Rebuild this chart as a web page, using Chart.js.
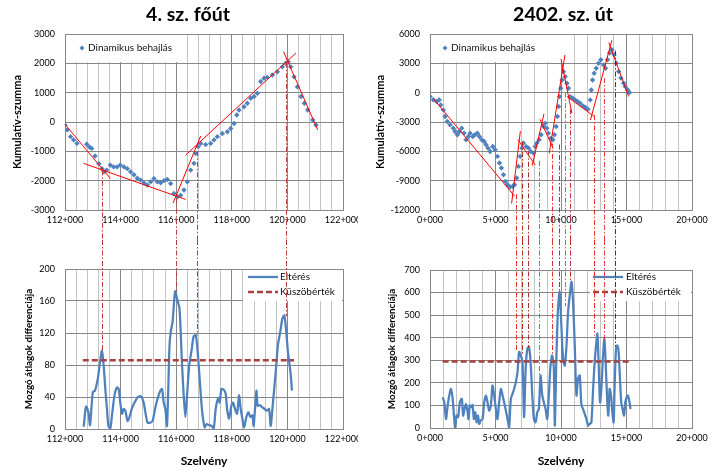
<!DOCTYPE html>
<html>
<head>
<meta charset="utf-8">
<script src="https://cdn.jsdelivr.net/npm/chart.js@4.4.1/dist/chart.umd.min.js"></script>
<style>
  html, body { margin: 0; padding: 0; background: #fff; }
  #wrap { position: relative; width: 716px; height: 471px; overflow: hidden; }
  canvas { position: absolute; }
</style>
</head>
<body>
<div id="wrap">
  <canvas id="tl" width="358" height="240" style="left:0;top:0"></canvas>
  <canvas id="tr" width="358" height="240" style="left:358px;top:0"></canvas>
  <canvas id="bl" width="358" height="231" style="left:0;top:240px"></canvas>
  <canvas id="br" width="358" height="231" style="left:358px;top:240px"></canvas>
</div>
<script>
// ---- 4. sz. főút: kumulatív szumma (szelvény [m], érték)
var leftStations = [112000,112080,112200,112310,112430,112780,112880,112960,113080,113220,113330,113400,113500,113630,113750,113870,113990,114120,114240,114360,114480,114600,114720,114840,114960,115080,115200,115320,115440,115560,115680,115800,115920,116040,116160,116280,116400,116520,116640,116700,116790,116880,117060,117240,117360,117480,117660,117840,117960,118080,118180,118260,118440,118560,118680,118800,118920,119040,119160,119280,119460,119640,119820,119940,120030,120120,120240,120360,120490,120610,120730,120910,121030];
var leftCumSum = [-100,-270,-500,-610,-730,-760,-850,-900,-1160,-1420,-1590,-1700,-1640,-1470,-1530,-1530,-1470,-1530,-1590,-1700,-1800,-1920,-1980,-2080,-2150,-2040,-1930,-2040,-2070,-2000,-1960,-2100,-2440,-2550,-2500,-2320,-2040,-1640,-1410,-1070,-840,-730,-770,-730,-610,-500,-390,-330,-220,-50,240,410,520,640,810,870,980,1380,1490,1520,1600,1710,1880,2000,2050,1880,1540,1200,870,640,410,70,-100];
// trend lines [x1, y1, x2, y2]
var leftTrends = [[112000,-80,113630,-1925],[112670,-1410,116340,-2640],[115890,-2760,116880,-480],[116340,-1130,120305,2350],[119860,2400,121090,-270]];

// ---- 4. sz. főút: mozgó átlagok differenciája
var leftDiffStations = [112673,112755,112840,112900,113000,113080,113180,113260,113330,113390,113450,113510,113560,113630,113690,113780,113870,113930,113990,114050,114110,114170,114250,114320,114400,114500,114620,114730,114830,114910,114970,115070,115150,115240,115330,115430,115490,115550,115610,115670,115760,115810,115870,115960,116030,116120,116200,116270,116330,116390,116470,116560,116630,116710,116800,116905,116965,117025,117085,117180,117265,117350,117420,117505,117565,117625,117710,117780,117830,117900,117985,118045,118115,118190,118260,118320,118380,118440,118525,118595,118670,118740,118785,118835,118885,118930,119005,119100,119185,119265,119340,119400,119480,119580,119660,119750,119820,119890,119965,120020,120110,120165];
var leftDiff = [3,28,21,5,46,48,63,84,98,80,50,25,4,1,17,42,52,50,33,19,25,23,10,15,25,33,40,41,33,17,8,8,10,25,38,48,50,33,25,4,105,123,134,172,163,150,88,42,15,42,80,100,116,117,84,33,13,2,6,5,4,1,25,38,33,50,49,44,25,13,29,33,25,19,42,25,13,2,15,21,15,17,4,25,48,29,30,27,25,23,25,4,33,71,105,123,138,142,119,96,71,48];
var leftThresholdX = [112640, 120240];
var leftThreshold = [86, 86];

// ---- 2402. sz. út: kumulatív szumma
var rightStations = [0,250,510,710,820,1020,1150,1320,1530,1780,1910,2090,2240,2420,2600,2750,2930,3060,3260,3440,3620,3770,3950,4130,4280,4430,4590,4790,4970,5150,5300,5450,5610,5760,5910,6110,6320,6450,6620,6750,6880,7010,7130,7340,7520,7690,7900,8030,8150,8330,8480,8660,8790,8920,9040,9220,9380,9500,9630,9730,9810,9890,9990,10090,10190,10320,10450,10570,10700,10900,11080,11260,11460,11670,11850,12050,12230,12310,12410,12530,12690,12860,13040,13250,13400,13550,13710,13890,14060,14220,14400,14570,14780,14900,15080,15230];
var rightCumSum = [-400,-730,-910,-740,-1250,-1760,-2440,-2950,-3290,-3630,-3970,-4310,-3970,-3630,-4140,-4820,-4480,-4140,-4480,-4310,-4140,-4480,-4820,-4990,-5330,-5670,-6010,-5500,-5840,-6520,-7200,-7710,-8390,-9070,-9410,-9650,-9580,-9410,-8730,-7540,-6520,-5670,-5160,-5500,-5670,-6010,-6180,-5500,-5160,-4820,-4310,-3460,-3120,-3630,-4140,-4650,-4820,-4310,-3460,-2440,-1420,-400,450,1300,2150,1640,960,450,-400,-570,-740,-910,-1080,-1350,-1490,-1700,-740,280,1300,1980,2490,3000,3370,2830,2490,3370,4050,4390,3880,3020,2170,1490,980,640,300,20];
var rightTrends = [[250,-600,6450,-10570],[6230,-11330,6900,-3930],[6700,-4800,8030,-7400],[7800,-7470,8700,-2160],[8400,-2730,9400,-5690],[9100,-6200,10300,3850],[10000,3450,10830,-2100],[10450,-390,12500,-2400],[12250,-2800,13880,5350],[13650,5130,15160,-390]];

// ---- 2402. sz. út: mozgó átlagok differenciája
var rightDiffStations = [965,1090,1220,1350,1470,1600,1730,1850,1920,2030,2150,2280,2430,2530,2640,2740,2840,2940,3040,3150,3250,3350,3450,3560,3660,3760,3860,4010,4140,4270,4390,4520,4650,4770,4900,5030,5150,5280,5410,5540,5660,5790,5920,6040,6170,6300,6420,6550,6680,6800,6930,7060,7180,7300,7430,7550,7680,7810,7930,8060,8190,8310,8440,8570,8690,8820,8950,9070,9200,9330,9450,9530,9640,9760,9890,10040,10160,10290,10420,10540,10670,10800,10920,11050,11180,11300,11430,11560,11690,11810,11940,12070,12190,12320,12450,12570,12700,12780,12870,12980,13080,13210,13310,13410,13510,13610,13710,13820,13920,14020,14090,14200,14300,14400,14500,14600,14700,14810,14910,15010,15110,15230,15310];
var rightDiff = [136,114,40,100,144,173,129,40,3,55,48,114,129,55,84,107,84,40,100,92,102,40,70,25,55,18,33,40,114,144,114,77,100,188,144,84,40,114,173,144,114,77,40,3,129,151,173,203,248,337,322,292,48,262,351,359,292,144,40,25,70,84,233,144,114,84,40,144,277,322,267,11,292,514,603,440,307,277,366,514,589,648,559,366,144,218,233,100,84,62,40,11,18,25,173,292,381,418,292,114,173,322,396,292,144,55,173,144,70,25,173,351,366,337,218,114,84,55,114,136,144,114,84];
var rightThresholdX = [965, 15360];
var rightThreshold = [295, 295];

// ---- töréspontok (szelvény, kumulatív szint, differencia csúcs)
var leftBreaks = [113340, 115980, 116740, 119940];
var leftBreakCum = [-1650, -2600, -1000, 2020];
var leftBreakDiff = [98, 172, 117, 141];
var rightBreaks = [6565, 7000, 7460, 8300, 9310, 9870, 10340, 10720, 12540, 13300, 14160];
var rightBreakCum = [-10400, -5000, -6000, -7000, -5200, -5300, 0, -1700, -2300, 1500, 4300];
var rightBreakDiff = [340, 330, 355, 233, 330, 600, 540, 650, 410, 385, 360];

// ---- tengely feliratok
var leftXLabels = ['112+000','114+000','116+000','118+000','120+000','122+000'];
var rightXLabels = ['0+000','5+000','10+000','15+000','20+000'];
var leftCumLabels = ['-3000','-2000','-1000','0','1000','2000','3000'];
var rightCumLabels = ['-12000','-9000','-6000','-3000','0','3000','6000'];
var leftDiffLabels = ['0','40','80','120','160','200'];
var rightDiffLabels = ['0','100','200','300','400','500','600','700'];

var FONT = 'Lato, "Liberation Sans", sans-serif';
var MAJOR = '#878787', MINOR = '#c4c4c4';
var BLUE = '#4F81BD';
Chart.defaults.font.family = FONT;
Chart.defaults.color = '#000';

var leftBreakColors = ['#B8403A', '#B8403A', '#B8403A', '#B8403A'];
var rightBreakColors = ['#E8302A', '#B0302A', '#B0302A', '#40A070', '#E8302A', '#B0302A', '#40A070', '#C0303A', '#E8302A', '#E04050', '#602828'];

function pts(xs, ys) {
  return xs.map(function (x, i) { return { x: x, y: ys[i] }; });
}

function xAxis(min, max, step, every, labels, h, title) {
  return {
    type: 'linear', min: min, max: max,
    afterFit: function (s) { s.height = h; s.paddingLeft = 0; s.paddingRight = 0; },
    ticks: {
      stepSize: step, autoSkip: false, maxRotation: 0, minRotation: 0, padding: 5, font: { size: 9 },
      callback: function (v) { return (v - min) % every === 0 ? labels[(v - min) / every] : ''; }
    },
    grid: {
      drawTicks: false,
      color: function (c) { return c.tick && (c.tick.value - min) % every === 0 ? MAJOR : MINOR; }
    },
    border: { color: MAJOR },
    title: title ? { display: true, text: title, font: { size: 12, weight: 'bold' }, padding: { top: 0, bottom: 3 } } : { display: false }
  };
}

function yAxis(min, max, step, labels, w, title, size, pad) {
  return {
    type: 'linear', min: min, max: max,
    afterFit: function (s) { s.width = w; s.paddingTop = 0; s.paddingBottom = 0; },
    ticks: {
      stepSize: step, padding: 10, font: { size: 9 },
      callback: function (v) { return labels[Math.round((v - min) / step)]; }
    },
    grid: { drawTicks: false, color: MAJOR },
    border: { color: MAJOR },
    title: { display: true, text: title, font: { size: size, weight: 'bold' }, padding: { top: pad, bottom: 0 } }
  };
}

// title, legend and the dash-dot break lines running between the two charts
var decor = {
  id: 'decor',
  beforeDatasetsDraw: function (chart, args, o) {
    var ctx = chart.ctx;
    ctx.save();
    if (o.title) {
      ctx.font = 'bold 19.5px ' + FONT;
      ctx.fillStyle = '#000';
      ctx.textAlign = 'center';
      ctx.textBaseline = 'middle';
      ctx.fillText(o.title, o.titleX, 15);
    }
    if (o.legend) {
      var L = o.legend;
      ctx.fillStyle = '#fff';
      ctx.fillRect(L.box[0], L.box[1], L.box[2], L.box[3]);
      ctx.font = '10px ' + FONT;
      ctx.textAlign = 'left';
      ctx.textBaseline = 'middle';
      L.items.forEach(function (it) {
        if (it.kind === 'marker') {
          ctx.fillStyle = BLUE;
          ctx.beginPath();
          ctx.moveTo(it.x, it.y - 2.5); ctx.lineTo(it.x + 2.5, it.y);
          ctx.lineTo(it.x, it.y + 2.5); ctx.lineTo(it.x - 2.5, it.y);
          ctx.closePath(); ctx.fill();
        } else {
          ctx.strokeStyle = it.color; ctx.lineWidth = it.width;
          ctx.setLineDash(it.dash || []);
          ctx.beginPath(); ctx.moveTo(it.x, it.y); ctx.lineTo(it.x + 30, it.y); ctx.stroke();
          ctx.setLineDash([]);
        }
        ctx.fillStyle = '#111';
        ctx.fillText(it.text, it.tx, it.y);
      });
    }
    ctx.restore();
  },
  afterDraw: function (chart, args, o) {
    if (!o.drops) return;
    var ctx = chart.ctx, d = o.drops;
    var xs = chart.scales.x, ys = chart.scales.y;
    ctx.save();
    ctx.lineWidth = 1;
    ctx.setLineDash([5, 2, 1.5, 2]);
    d.xs.forEach(function (x, i) {
      var px = Math.round(xs.getPixelForValue(x)) + 0.5;
      var py = ys.getPixelForValue(d.ys[i]);
      ctx.strokeStyle = d.colors[i];
      ctx.beginPath();
      if (d.dir === 'down') { ctx.moveTo(px, py); ctx.lineTo(px, chart.height); }
      else { ctx.moveTo(px, 0); ctx.lineTo(px, py); }
      ctx.stroke();
    });
    ctx.restore();
  }
};

function cumChart(id, stations, values, trends, xa, ya, pad, decorOpts) {
  var sets = trends.map(function (t) {
    return {
      data: [{ x: t[0], y: t[1] }, { x: t[2], y: t[3] }],
      showLine: true, pointRadius: 0, borderColor: '#FF0000', borderWidth: 1, order: 0, clip: 2
    };
  });
  sets.push({
    label: 'Dinamikus behajlás', data: pts(stations, values),
    pointStyle: 'rectRot', pointRadius: 2.7, pointBorderWidth: 0,
    backgroundColor: BLUE, borderColor: BLUE, order: 1
  });
  return new Chart(document.getElementById(id), {
    type: 'scatter',
    data: { datasets: sets },
    options: {
      responsive: false, animation: false, events: [],
      layout: { padding: pad },
      scales: { x: xa, y: ya },
      plugins: { legend: { display: false }, tooltip: { enabled: false }, decor: decorOpts }
    },
    plugins: [decor]
  });
}

function diffChart(id, stations, values, thrX, thr, xa, ya, pad, decorOpts) {
  return new Chart(document.getElementById(id), {
    type: 'scatter',
    data: {
      datasets: [
        { label: 'Eltérés', data: pts(stations, values), showLine: true, pointRadius: 0,
          borderColor: BLUE, borderWidth: 2.25, tension: 0.25, order: 1 },
        { label: 'Küszöbérték', data: pts(thrX, thr), showLine: true, pointRadius: 0,
          borderColor: '#A8413D', borderWidth: 2.5, borderDash: [6, 3], order: 0 }
      ]
    },
    options: {
      responsive: false, animation: false, events: [],
      layout: { padding: pad },
      scales: { x: xa, y: ya },
      plugins: { legend: { display: false }, tooltip: { enabled: false }, decor: decorOpts }
    },
    plugins: [decor]
  });
}

cumChart('tl', leftStations, leftCumSum, leftTrends,
  xAxis(112000, 122000, 400, 2000, leftXLabels, 30, null),
  yAxis(-3000, 3000, 1000, leftCumLabels, 65, 'Kumulatív-szumma', 11, 11),
  { left: 0, right: 15, top: 34, bottom: 0 },
  {
    title: '4. sz. főút', titleX: 188,
    legend: { box: [66, 35, 120, 27], items: [{ kind: 'marker', x: 82, y: 48, text: 'Dinamikus behajlás', tx: 88 }] },
    drops: { xs: leftBreaks, ys: leftBreakCum, colors: leftBreakColors, dir: 'down' }
  });

cumChart('tr', rightStations, rightCumSum, rightTrends,
  xAxis(0, 20000, 1000, 5000, rightXLabels, 30, null),
  yAxis(-12000, 6000, 3000, rightCumLabels, 72, 'Kumulatív-szumma', 11, 16),
  { left: 0, right: 24, top: 34, bottom: 0 },
  {
    title: '2402. sz. út', titleX: 205,
    legend: { box: [73, 35, 131, 27], items: [{ kind: 'marker', x: 87, y: 48, text: 'Dinamikus behajlás', tx: 93 }] },
    drops: { xs: rightBreaks, ys: rightBreakCum, colors: rightBreakColors, dir: 'down' }
  });

diffChart('bl', leftDiffStations, leftDiff, leftThresholdX, leftThreshold,
  xAxis(112000, 122000, 400, 2000, leftXLabels, 42, 'Szelvény'),
  yAxis(0, 200, 40, leftDiffLabels, 65, 'Mozgó átlagok differenciája', 9.8, 23),
  { left: 0, right: 15, top: 29, bottom: 0 },
  {
    legend: { box: [243, 30, 99, 31], items: [
      { kind: 'line', x: 248, y: 37, color: BLUE, width: 2.25, text: 'Eltérés', tx: 280 },
      { kind: 'line', x: 248, y: 52, color: '#A8413D', width: 2.5, dash: [6, 3], text: 'Küszöbérték', tx: 280 }
    ] },
    drops: { xs: leftBreaks, ys: leftBreakDiff, colors: leftBreakColors, dir: 'up' }
  });

diffChart('br', rightDiffStations, rightDiff, rightThresholdX, rightThreshold,
  xAxis(0, 20000, 1000, 5000, rightXLabels, 43, 'Szelvény'),
  yAxis(0, 700, 100, rightDiffLabels, 72, 'Mozgó átlagok differenciája', 9.8, 28),
  { left: 0, right: 24, top: 30, bottom: 0 },
  {
    legend: { box: [232, 31, 101, 30], items: [
      { kind: 'line', x: 235, y: 37, color: BLUE, width: 2.25, text: 'Eltérés', tx: 268 },
      { kind: 'line', x: 235, y: 52, color: '#A8413D', width: 2.5, dash: [6, 3], text: 'Küszöbérték', tx: 268 }
    ] },
    drops: { xs: rightBreaks, ys: rightBreakDiff, colors: rightBreakColors, dir: 'up' }
  });
</script>
</body>
</html>
